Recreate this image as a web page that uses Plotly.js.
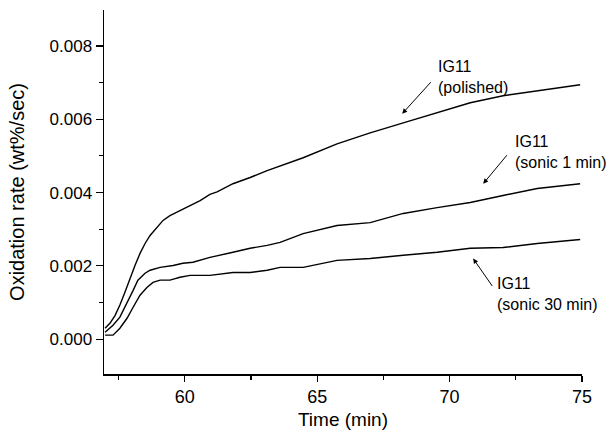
<!DOCTYPE html>
<html>
<head>
<meta charset="utf-8">
<script src="https://cdn.plot.ly/plotly-3.0.1.min.js"></script>
<style>html,body{margin:0;padding:0;background:#fff;}#chart{width:614px;height:435px;}</style>
</head>
<body>
<div id="chart"></div>
<script>
// Time (min) and oxidation rate (wt%/sec) for each sample
var timePolished = [56.99,57.18,57.37,57.55,57.74,57.93,58.12,58.31,58.50,58.69,58.95,59.18,59.44,59.82,60.20,60.58,60.95,61.22,61.82,62.47,63.11,63.60,64.47,65.75,67.00,68.25,69.53,70.78,72.02,73.31,74.93];
var ratePolished = [0.00030,0.00044,0.00065,0.00093,0.00128,0.00166,0.00201,0.00234,0.00261,0.00283,0.00305,0.00324,0.00337,0.00351,0.00365,0.00378,0.00395,0.00402,0.00424,0.00441,0.00460,0.00473,0.00495,0.00533,0.00563,0.00590,0.00618,0.00645,0.00664,0.00678,0.00694];

var timeSonic1 = [56.99,57.29,57.55,57.82,58.05,58.23,58.50,58.69,59.07,59.56,59.93,60.31,60.95,61.82,62.47,63.11,63.60,64.47,65.75,67.00,68.25,69.53,70.78,72.02,73.31,74.93];
var rateSonic1 = [0.00019,0.00038,0.00060,0.00098,0.00133,0.00161,0.00180,0.00188,0.00196,0.00201,0.00207,0.00210,0.00223,0.00237,0.00248,0.00256,0.00264,0.00288,0.00310,0.00318,0.00343,0.00359,0.00373,0.00392,0.00411,0.00424];

var timeSonic30 = [56.99,57.29,57.55,57.82,58.05,58.31,58.57,58.80,59.07,59.44,59.82,60.20,60.95,61.82,62.47,63.11,63.60,64.47,65.75,67.00,68.25,69.53,70.78,72.02,73.31,74.93];
var rateSonic30 = [0.00011,0.00011,0.00030,0.00057,0.00087,0.00120,0.00141,0.00155,0.00161,0.00161,0.00169,0.00174,0.00174,0.00182,0.00182,0.00188,0.00196,0.00196,0.00215,0.00220,0.00229,0.00237,0.00248,0.00250,0.00261,0.00272];

var labels = ["IG11<br>(polished)", "IG11<br>(sonic 1 min)", "IG11<br>(sonic 30 min)"];
var labelX = [69.49, 72.40, 71.72];
var labelY = [0.00772, 0.00568, 0.00180];
var arrowTipX = [68.21, 71.27, 70.89];
var arrowTipY = [0.00615, 0.00424, 0.00220];
var arrowTailX = [69.34, 72.21, 71.65];
var arrowTailY = [0.00705, 0.00506, 0.00141];

var FONT = "Liberation Sans, Arial, sans-serif";
var lineStyle = {color: "#000", width: 1.4};
var traces = [
  {x: timePolished, y: ratePolished, mode: "lines", line: lineStyle, hoverinfo: "skip"},
  {x: timeSonic1, y: rateSonic1, mode: "lines", line: lineStyle, hoverinfo: "skip"},
  {x: timeSonic30, y: rateSonic30, mode: "lines", line: lineStyle, hoverinfo: "skip"}
];

var annotations = [];
for (var i = 0; i < labels.length; i++) {
  annotations.push({x: labelX[i], y: labelY[i], xref: "x", yref: "y", text: labels[i],
    showarrow: false, xanchor: "left", yanchor: "top", align: "left",
    font: {family: FONT, size: 16, color: "#000"}});
  annotations.push({x: arrowTipX[i], y: arrowTipY[i], ax: arrowTailX[i], ay: arrowTailY[i],
    xref: "x", yref: "y", axref: "x", ayref: "y", text: "", showarrow: true,
    arrowhead: 2, arrowsize: 1, arrowwidth: 1, arrowcolor: "#000"});
}

var layout = {
  width: 614, height: 435,
  margin: {l: 104, r: 32, t: 10, b: 61},
  paper_bgcolor: "#fff", plot_bgcolor: "#fff",
  showlegend: false,
  font: {family: FONT, color: "#000"},
  xaxis: {
    range: [56.95, 75], tickvals: [60, 65, 70, 75], ticks: "outside", ticklen: 6, tickwidth: 1.2,
    tickcolor: "#000", showline: true, linecolor: "#000", linewidth: 1.5, showgrid: false, zeroline: false,
    tickfont: {family: FONT, size: 18, color: "#000"},
    minor: {tickvals: [57.5, 62.5, 67.5, 72.5], ticks: "outside", ticklen: 4, tickcolor: "#000", showgrid: false},
    title: {text: "Time (min)", font: {family: FONT, size: 19, color: "#000"}, standoff: 6}
  },
  yaxis: {
    range: [-0.00095, 0.00898], tickvals: [0, 0.002, 0.004, 0.006, 0.008], tickformat: ".3f",
    ticks: "outside", ticklen: 7, tickwidth: 1.2, tickcolor: "#000",
    showline: true, linecolor: "#000", linewidth: 1.5, showgrid: false, zeroline: false,
    tickfont: {family: FONT, size: 17, color: "#000"},
    minor: {tickvals: [0.001, 0.003, 0.005, 0.007], ticks: "outside", ticklen: 4, tickcolor: "#000", showgrid: false},
    title: {text: "Oxidation rate (wt%/sec)", font: {family: FONT, size: 20, color: "#000"}, standoff: 19}
  },
  annotations: annotations
};

Plotly.newPlot("chart", traces, layout, {staticPlot: true, displayModeBar: false});
</script>
</body>
</html>
